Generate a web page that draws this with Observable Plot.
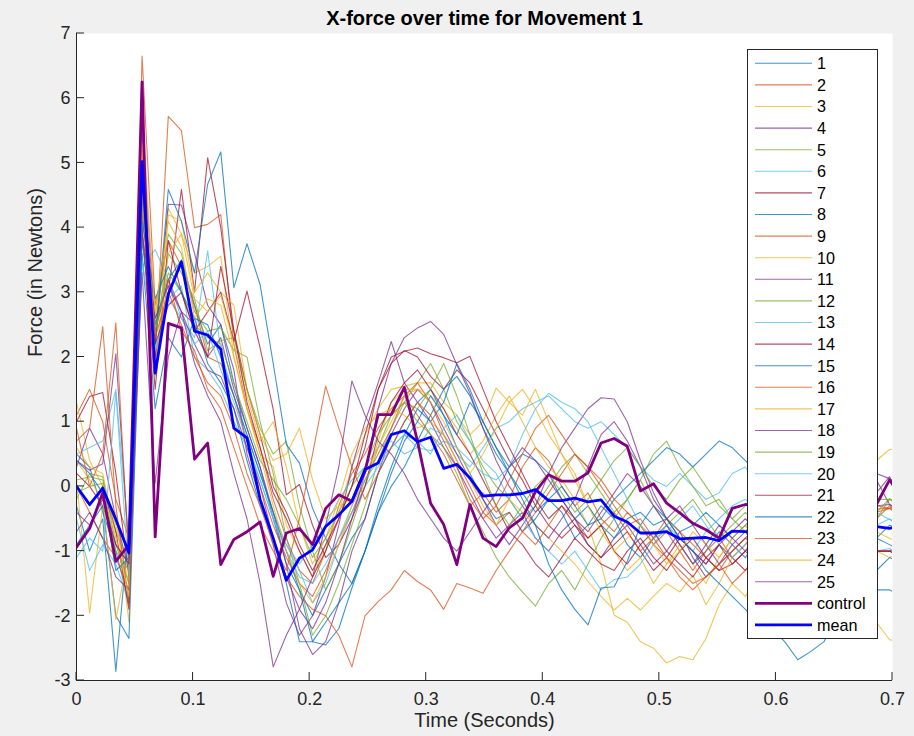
<!DOCTYPE html>
<html>
<head>
<meta charset="utf-8">
<script src="https://cdn.jsdelivr.net/npm/d3@7"></script>
<script src="https://cdn.jsdelivr.net/npm/@observablehq/plot@0.6"></script>
<style>
  html, body { margin: 0; padding: 0; background: #f0f0f0; }
  #chart { position: relative; width: 914px; height: 736px; font-family: "Liberation Sans", Arial, Helvetica, sans-serif; }
  #chart svg { display: block; }
  #legend { position: absolute; left: 747px; top: 49px; }
</style>
</head>
<body>
<div id="chart"></div>
<script>
// X-force samples (N) for each trial of movement 1, one value per sample
const trial01 = [0.5, 0.3, -0.4, -1.0, -1.8, 4.5, 2.5, 3.2, 3.5, 2.8, 2.2, 2.5, 1.6, 0.9, 0.3, -0.5, -1.2, -1.6, -2.0, -1.6, -1.2, -0.8, -0.5, 0.2, 0.6, 1.0, 1.3, 1.5, 1.1, 0.6, 0.2, -0.2, -0.5, -0.4, -0.7, -0.5, -0.2, -0.4, -0.8, -0.6, -0.3, -0.5, -0.9, -1.1, -0.8, -0.6, -0.9, -1.2, -1.0, -0.7, -0.9, -1.1, -0.8, -0.6, -0.9, -1.3, -1.0, -0.8, -0.5, -0.7, -1.0, -0.8, -0.6, -0.7];
const trial02 = [1.1, 1.5, 1.0, -0.2, -0.8, 5.2, 2.0, 5.72, 5.5, 4.0, 4.05, 4.2, 2.2, 1.2, 0.6, -0.2, -0.8, -1.3, -1.5, -1.0, -0.3, 0.2, 0.5, 0.9, 1.2, 1.4, 1.1, 0.8, 0.5, 0.1, -0.3, -0.1, -0.4, -0.2, 0.3, 0.6, 0.4, 0.0, -0.3, -0.1, -0.5, -0.7, -0.4, -0.6, -0.9, -0.7, -1.0, -1.3, -1.0, -0.8, -1.1, -0.9, -0.6, -0.8, -1.0, -0.7, -0.5, -0.8, -0.6, -0.4, -0.7, -0.5, -0.3, -0.5];
const trial03 = [1.3, 0.4, 0.0, -0.6, -1.5, 5.8, 2.6, 4.3, 3.9, 3.3, 3.4, 3.56, 2.0, 1.2, 0.5, 0.3, -0.6, -1.0, -1.4, -0.9, -0.4, 0.3, 0.8, 1.2, 1.5, 1.55, 1.6, 1.6, 1.3, 1.1, 0.8, 1.0, 1.52, 1.3, 1.1, 1.5, 1.0, 0.5, 0.2, -0.3, -0.6, -1.0, -1.3, -1.1, -1.5, -1.2, -0.9, -1.2, -1.5, -1.1, -0.8, -0.6, -0.9, -1.1, -0.8, -0.6, -0.8, -1.0, -1.2, -1.5, -1.8, -2.1, -2.37, -2.4];
const trial04 = [0.3, 0.9, 0.5, -0.5, -1.3, 4.8, 2.2, 4.36, 4.35, 3.6, 2.8, 2.5, 1.8, 0.5, -0.2, -0.9, -1.8, -2.3, -2.0, -1.4, -0.6, 0.3, 1.0, 1.6, 2.24, 1.6, 1.3, 1.0, 0.6, 0.3, -0.1, -0.5, -0.8, -0.6, -0.4, -0.8, -1.0, -0.7, -0.5, -0.9, -1.1, -0.8, -0.6, -0.9, -1.2, -1.0, -0.7, -1.1, -1.4, -1.2, -0.9, -0.7, -1.0, -0.8, -0.5, -0.7, -0.4, -0.2, 0.0, -0.1, 0.1, 0.2, 0.12, 0.0];
const trial05 = [0.1, 0.15, 0.1, -0.7, -1.2, 4.2, 2.5, 3.9, 3.6, 2.7, 2.4, 2.45, 2.1, 2.0, 1.0, 0.2, -0.8, -1.5, -2.3, -2.0, -1.5, -0.9, -0.3, 0.4, 0.9, 1.3, 1.6, 1.9, 1.5, 1.0, 0.7, 0.3, 0.0, -0.2, -0.5, -0.3, 0.0, 0.3, 0.5, 0.2, -0.1, -0.4, -0.2, 0.1, -0.3, -0.6, -0.4, -0.2, -0.5, -0.8, -0.6, -0.4, -0.6, -0.3, -0.1, -0.4, -0.2, 0.0, -0.3, -0.1, -0.2, -0.4, -0.19, -0.3];
const trial06 = [0.5, 0.6, 0.7, 1.5, -0.9, 3.4, 3.66, 3.2, 2.6, 2.3, 3.64, 2.1, 1.4, 0.8, 0.2, -0.4, -0.9, -1.2, -0.9, -0.6, -0.2, 0.1, 0.3, 0.6, 0.7, 0.5, 0.6, 0.9, 0.8, 0.5, 0.3, 0.6, 0.9, 1.0, 1.2, 1.3, 1.4, 1.2, 1.0, 0.9, 1.0, 0.8, 0.6, 0.3, 0.1, 0.0, 0.2, 0.0, -0.2, -0.1, 0.2, 0.3, 0.0, -0.2, -0.3, -0.5, -0.4, -0.6, -0.5, -0.3, -0.5, -0.4, -0.51, -0.6];
const trial07 = [1.0, 1.39, 1.45, 0.2, -1.4, 4.5, 2.0, 3.0, 4.59, 3.0, 5.08, 4.0, 2.4, 1.5, 0.8, 0.0, -0.4, -0.9, -1.3, -0.9, -0.5, 0.0, 0.6, 1.5, 1.9, 2.1, 2.0, 1.7, 1.5, 1.8, 1.6, 1.2, 0.8, 0.4, 0.1, -0.3, -0.6, -0.8, -0.6, -0.9, -1.1, -0.9, -0.7, -1.0, -1.3, -1.1, -0.8, -1.0, -1.2, -0.9, -1.1, -1.3, -1.0, -0.8, -1.1, -0.9, -1.2, -1.0, -0.8, -1.1, -0.9, -1.0, -1.0, -0.9];
const trial08 = [-0.3, -1.0, -0.5, -2.86, -0.6, 3.6, 1.2, 2.3, 2.0, 2.6, 1.9, 1.6, 1.2, 0.4, -0.3, -0.8, -1.5, -2.4, -2.4, -2.45, -2.2, -1.57, -1.0, -0.3, 0.3, 0.8, 1.2, 1.0, 1.3, 1.9, 1.5, 1.0, 0.6, 0.3, 0.5, 0.4, 0.2, -0.2, -0.5, -0.3, -0.6, -0.8, -0.5, -0.4, -0.6, -0.5, -0.7, -0.6, -0.4, -0.6, -0.8, -0.6, -0.4, -0.7, -0.9, -0.6, -0.5, -0.7, -0.9, -0.8, -1.0, -0.8, -0.9, -1.0];
const trial09 = [0.0, -0.4, -0.8, -1.1, -1.6, 6.65, 2.8, 3.8, 3.4, 2.8, 2.0, 1.9, 1.4, 0.7, 0.0, -0.6, -1.1, -1.5, -1.7, -1.3, -0.8, -0.4, 0.1, 0.5, 0.9, 1.4, 1.6, 1.3, 0.8, 0.4, 0.0, -0.4, -0.6, -0.4, -0.7, -0.9, -0.6, -0.3, -0.5, -0.8, -0.6, -0.4, -0.7, -1.0, -0.8, -0.5, -0.7, -0.9, -1.1, -1.3, -1.0, -0.8, -1.0, -1.2, -0.9, -0.7, -0.6, -0.8, -0.5, -0.3, -0.5, -0.4, -0.34, -0.2];
const trial10 = [0.1, -1.96, -0.3, -0.4, -2.1, 4.0, 1.7, 4.2, 4.1, 3.0, 3.3, 3.0, 2.8, 1.5, 0.8, 0.4, 0.5, 0.9, 0.1, -0.5, -0.3, -0.2, 0.0, 0.7, 1.3, 1.5, 1.5, 1.4, 1.2, 0.9, 0.5, 0.7, 1.1, 1.4, 1.0, 0.6, 0.3, 0.1, -0.2, -0.6, -1.2, -1.99, -2.1, -2.4, -2.5, -2.73, -2.63, -2.68, -2.35, -1.83, -1.5, -1.7, -1.4, -1.2, -1.0, -0.8, -1.1, -0.9, -0.7, -1.0, -1.2, -1.0, -1.1, -1.0];
const trial11 = [0.4, 0.25, 0.35, 2.05, -1.0, 5.5, 2.4, 3.2, 2.7, 2.5, 2.0, 2.3, 1.5, 0.9, 0.3, -0.4, -1.2, -2.2, -2.6, -2.4, -1.8, -1.0, -0.5, 0.2, 0.8, 1.2, 1.5, 1.3, 0.9, 0.5, 0.1, -0.2, -0.6, -0.9, -0.6, -0.3, 0.2, 0.6, 0.9, 1.2, 1.37, 1.35, 1.0, 0.4, -0.1, -0.5, -0.3, -0.6, -0.9, -1.2, -1.0, -0.8, -0.6, -0.9, -0.7, -0.5, -0.3, -0.5, -0.2, 0.0, -0.2, -0.1, 0.15, -0.3];
const trial12 = [-0.2, 0.2, 0.15, -0.9, -1.5, 4.9, 2.3, 3.6, 3.3, 2.9, 2.1, 2.25, 2.3, 1.5, 0.9, 0.5, 0.7, -0.3, -1.0, -1.6, -1.2, -0.6, 0.0, 0.6, 1.1, 1.3, 1.0, 0.8, 0.6, 0.2, -0.3, -0.7, -1.1, -1.4, -1.63, -1.85, -1.5, -1.3, -1.6, -1.2, -0.8, -0.5, -0.2, 0.1, 0.5, 0.7, 0.3, 0.0, -0.3, -0.2, -0.5, -0.7, -0.4, -0.6, -0.8, -0.5, -0.7, -0.9, -0.6, -0.4, -0.6, -0.5, -0.2, -0.3];
const trial13 = [-0.5, -1.3, -0.9, -1.2, -1.8, 3.5, 2.1, 2.9, 3.1, 2.0, 1.8, 1.5, 1.0, 0.6, 0.1, -0.5, -0.9, -1.3, -1.8, -1.5, -0.9, -0.4, 0.0, 0.3, 0.6, 0.8, 0.7, 0.5, 0.9, 1.1, 0.7, 0.4, 0.2, -0.2, -0.5, -0.8, -1.0, -1.2, -1.0, -1.3, -1.6, -1.44, -1.4, -1.2, -0.9, -0.6, -0.8, -1.0, -0.7, -0.5, -0.3, -0.2, -0.4, -0.6, -0.5, -0.3, -0.6, -0.8, -1.0, -0.9, -0.96, -1.0, -0.96, -1.1];
const trial14 = [0.2, 0.0, -0.3, -0.9, -1.2, 4.0, 1.5, 3.8, 3.0, 2.4, 2.7, 3.0, 2.24, 3.02, 2.14, 1.19, -0.13, 0.03, -0.6, -1.1, -0.9, -0.5, 0.0, 0.8, 1.3, 1.6, 1.8, 1.5, 1.2, 0.8, 0.5, 0.1, -0.3, -0.7, -0.9, -1.2, -1.4, -1.1, -0.8, -1.0, -1.2, -1.3, -1.0, -0.8, -1.1, -1.3, -1.0, -0.8, -1.1, -1.3, -1.2, -1.0, -1.2, -1.4, -1.1, -0.9, -1.2, -1.0, -1.3, -1.1, -1.0, -1.0, -1.0, -1.1];
const trial15 = [-0.9, -0.6, -0.3, -2.0, -2.35, 3.8, 2.2, 4.59, 4.1, 3.3, 4.67, 5.17, 3.07, 3.75, 3.12, 1.9, 0.65, 0.36, -0.34, -0.8, -1.2, -1.5, -1.0, -0.4, 0.0, 0.3, 0.7, 1.1, 1.5, 1.7, 1.4, 0.9, 0.5, 0.2, -0.1, -0.4, -0.2, 0.0, -0.3, -0.6, -0.5, -0.2, 0.0, 0.2, 0.4, 0.6, 0.5, 0.3, 0.5, 0.7, 0.6, 0.4, 0.2, 0.0, -0.3, -0.6, -0.9, -1.2, -1.4, -1.5, -1.6, -1.6, -1.6, -1.7];
const trial16 = [0.7, 0.9, 2.47, -0.3, -1.8, 4.3, 1.9, 3.2, 2.4, 2.1, 1.5, 1.2, 0.6, 0.0, -0.6, -1.0, -1.4, -1.7, -1.9, -2.0, -2.3, -2.79, -2.0, -1.78, -1.6, -1.3, -1.47, -1.6, -1.9, -1.5, -1.57, -1.65, -1.3, -1.0, -0.7, -0.4, -0.1, 0.2, 0.5, 0.3, 0.1, -0.2, -0.4, -0.6, -0.9, -1.1, -1.3, -1.5, -1.4, -1.2, -1.0, -0.8, -0.9, -1.1, -0.8, -0.6, -0.7, -0.5, -0.6, -0.4, -0.5, -0.35, -0.34, -0.4];
const trial17 = [0.4, 0.1, -0.2, -2.06, -1.0, 4.6, 1.8, 3.6, 3.9, 2.9, 2.7, 2.95, 2.2, 1.4, 0.7, 1.0, 0.3, -0.6, -1.2, -0.8, -0.2, 0.5, 0.9, 1.1, 1.2, 1.1, 0.9, 1.0, 0.8, 0.4, 0.1, -0.3, -0.6, -0.2, -0.4, -0.6, -0.8, -1.0, -1.2, -1.47, -1.7, -1.91, -1.73, -1.91, -1.7, -1.5, -1.63, -1.37, -1.83, -1.5, -1.1, -0.9, -0.7, -0.5, -0.7, -0.9, -0.8, -0.6, -0.8, -1.0, -0.9, -0.7, -0.8, -0.9];
const trial18 = [-0.7, -0.4, -0.8, -1.4, -1.6, 3.9, 2.6, 3.1, 2.7, 2.2, 1.8, 1.7, 1.2, 0.6, 0.0, -0.8, -1.4, -1.9, -2.2, -1.8, -1.2, -0.5, 0.2, 1.2, 1.9, 2.3, 2.45, 2.55, 2.35, 1.88, 1.44, 0.9, 0.4, 0.0, -0.3, -0.6, -0.8, -0.5, -0.2, 0.3, 0.8, 1.0, 0.7, 0.3, -0.2, -0.5, -0.8, -1.0, -1.2, -0.9, -0.7, -0.5, -0.7, -0.4, -0.2, -0.4, -0.1, 0.1, -0.1, 0.0, 0.15, 0.1, -0.28, -0.4];
const trial19 = [-0.1, 0.0, 0.05, -1.0, -1.3, 4.4, 2.4, 3.3, 3.0, 2.5, 2.3, 2.2, 1.6, 1.0, 0.4, 0.1, -0.2, -0.6, -1.1, -0.8, -0.4, 0.0, 0.3, 0.8, 1.1, 1.3, 1.2, 1.5, 1.9, 1.4, 0.8, 0.2, -0.3, -0.6, -0.3, 0.0, 0.2, -0.1, -0.4, -0.2, 0.1, 0.4, 0.6, 0.3, 0.0, -0.2, 0.1, 0.3, 0.0, -0.3, -0.5, -0.3, 0.0, -0.2, -0.4, -0.6, -0.3, -0.5, -0.2, -0.1, -0.3, -0.2, -0.2, -0.3];
const trial20 = [-1.1, -0.8, -1.0, 1.45, -1.4, 4.9, 2.1, 2.9, 2.6, 2.2, 2.4, 1.8, 1.3, 0.7, 0.1, -0.5, -1.0, -1.4, -1.5, -1.2, -0.8, -0.3, 0.1, 0.4, 0.6, 0.8, 0.6, 0.55, 0.7, 0.6, 0.4, 0.2, 0.1, 0.3, 0.8, 1.2, 1.44, 1.3, 1.2, 1.0, 0.6, 0.2, -0.2, -0.6, -0.8, -0.7, -0.5, -0.3, -0.6, -0.9, -1.1, -0.9, -0.7, -0.5, -0.8, -1.0, -0.7, -0.5, -0.6, -0.8, -0.7, -0.6, -0.5, -0.7];
const trial21 = [0.0, -0.3, 0.0, -0.7, -1.9, 4.7, 2.2, 2.8, 3.0, 2.4, 2.0, 3.4, 2.4, 1.3, 0.6, -0.1, -0.5, -1.0, -1.4, -1.0, -0.5, 0.0, 0.8, 1.5, 2.0, 2.09, 2.14, 2.05, 1.99, 1.91, 2.01, 1.5, 1.0, 0.6, 0.2, -0.2, -0.5, -0.3, -0.6, -0.8, -0.6, -1.0, -1.2, -0.9, -0.7, -1.0, -1.2, -1.4, -1.1, -0.9, -1.2, -1.0, -0.8, -1.1, -1.3, -1.0, -0.8, -1.1, -0.9, -1.0, -1.2, -1.0, -1.0, -1.1];
const trial22 = [0.4, 0.2, -0.1, -1.3, -1.1, 4.1, 2.9, 3.4, 3.0, 2.6, 2.5, 2.0, 1.4, 0.8, 0.2, -0.4, -1.0, -1.6, -2.4, -2.1, -1.8, -1.5, -1.0, -0.4, 0.2, 0.7, 1.0, 1.4, 1.1, 0.8, 1.3, 1.0, 0.6, 0.2, -0.2, -0.6, -1.2, -1.6, -1.9, -2.14, -1.57, -1.55, -1.16, -0.6, -0.3, -0.5, -0.8, -1.0, -1.3, -1.5, -1.7, -1.9, -2.1, -2.2, -2.4, -2.68, -2.55, -2.4, -2.0, -1.7, -1.5, -1.3, -1.1, -1.2];
const trial23 = [0.9, 0.0, 0.5, 2.53, -1.2, 5.0, 2.3, 3.0, 2.5, 2.0, 1.6, 1.4, 0.9, 0.2, -0.3, -0.9, -1.3, -0.5, 0.5, 1.55, 0.9, 0.3, -0.2, 0.2, 0.6, 1.0, 1.3, 1.1, 0.7, 0.3, -0.2, -0.5, -0.3, 0.1, 0.5, 0.9, 1.1, 0.8, 0.5, 0.3, 0.0, -0.3, -0.6, -0.5, -0.8, -1.1, -1.4, -1.6, -1.4, -1.2, -1.5, -1.3, -1.1, -0.9, -0.7, -0.8, -0.6, -0.5, -0.4, -0.6, -0.5, -0.3, -0.34, -0.5];
const trial24 = [0.6, 0.3, 0.2, -0.8, -1.7, 5.3, 2.7, 4.1, 3.7, 2.6, 2.9, 2.8, 2.0, 1.2, 0.5, -0.3, -1.0, -1.5, -1.8, -1.4, -0.9, -0.3, 0.2, 0.6, 1.0, 1.4, 1.5, 1.3, 1.0, 0.6, 0.2, 0.5, 0.9, 1.3, 1.5, 1.2, 0.8, 0.5, 0.1, -0.3, -0.7, -1.0, -0.8, -0.6, -0.9, -1.2, -1.0, -0.7, -0.9, -1.1, -0.8, -0.6, -0.8, -0.5, -0.3, -0.5, -0.7, -0.4, -0.2, 0.0, 0.2, 0.4, 0.57, 0.6];
const trial25 = [-0.4, -0.6, -0.2, -0.9, -1.2, 3.3, 0.05, 2.0, 2.7, 1.9, 1.4, 1.0, 0.2, -0.5, -1.5, -2.79, -2.3, -1.9, -1.4, -0.6, 0.3, 1.63, 1.1, 0.7, 0.5, 0.2, -0.2, -0.5, -0.8, -1.0, -0.7, -0.4, -0.1, 0.3, 0.6, 0.4, 0.1, -0.2, -0.5, -0.7, -0.4, -0.1, 0.2, 0.0, -0.3, -0.6, -0.9, -1.2, -0.9, -0.6, -0.8, -1.0, -0.7, -0.5, -0.8, -0.6, -0.3, -0.5, -0.7, -0.4, -0.2, -0.3, -0.28, -0.4];

// Control movement and the across-trial mean
const control = [-0.94, -0.65, -0.1, -1.16, -0.9, 6.25, -0.78, 2.52, 2.45, 0.42, 0.67, -1.21, -0.82, -0.7, -0.55, -1.39, -0.72, -0.65, -0.9, -0.34, -0.13, -0.23, 0.23, 1.11, 1.11, 1.53, 0.7, -0.26, -0.59, -1.21, -0.28, -0.8, -0.93, -0.64, -0.49, -0.08, 0.18, 0.08, 0.08, 0.21, 0.67, 0.74, 0.62, -0.07, 0.04, -0.26, -0.41, -0.57, -0.67, -0.8, -0.34, -0.28, -0.3, -0.2, -0.4, -0.5, -0.3, -0.4, -0.5, -0.45, -0.3, -0.28, 0.1, -0.2];
const mean = [0.0, -0.28, -0.03, -0.51, -1.03, 5.02, 1.75, 2.97, 3.47, 2.4, 2.34, 2.12, 0.9, 0.75, -0.2, -0.8, -1.45, -1.11, -0.98, -0.62, -0.44, -0.23, 0.26, 0.36, 0.8, 0.86, 0.69, 0.76, 0.28, 0.34, 0.13, -0.15, -0.13, -0.13, -0.11, -0.05, -0.22, -0.22, -0.18, -0.24, -0.21, -0.46, -0.55, -0.72, -0.72, -0.7, -0.81, -0.8, -0.79, -0.84, -0.69, -0.7, -0.72, -0.7, -0.75, -0.7, -0.68, -0.7, -0.65, -0.62, -0.6, -0.62, -0.65, -0.6];

const sampleInterval = 0.01125; // seconds between samples

const xTicks = [0, 0.1, 0.2, 0.3, 0.4, 0.5, 0.6, 0.7];
const yTicks = [-3, -2, -1, 0, 1, 2, 3, 4, 5, 6, 7];

const titleText = "X-force over time for Movement 1";
const xLabelText = "Time (Seconds)";
const yLabelText = "Force (in Newtons)";

// MATLAB default line colour order, cycled over the trials
const lineColors = ["#0072BD", "#D95319", "#EDB120", "#7E2F8E", "#77AC30", "#4DBEEE", "#A2142F"];
const controlColor = "#800080";
const meanColor = "#0000FF";
const axisColor = "#262626";
const fontStack = '"Liberation Sans", Arial, Helvetica, sans-serif';
const tickLength = 8;

const trials = [trial01, trial02, trial03, trial04, trial05, trial06, trial07, trial08, trial09, trial10,
  trial11, trial12, trial13, trial14, trial15, trial16, trial17, trial18, trial19, trial20,
  trial21, trial22, trial23, trial24, trial25];
const trialLabels = trials.map((_, k) => String(k + 1));
const trialColors = trialLabels.map((_, k) => lineColors[k % lineColors.length]);

const toRows = (values, trial) => values.map((v, i) => ({trial, time: i * sampleInterval, value: v}));
const trialRows = trials.flatMap((values, k) => toRows(values, trialLabels[k]));

const plot = Plot.plot({
  width: 914,
  height: 736,
  marginLeft: 76,
  marginRight: 22,
  marginTop: 33,
  marginBottom: 56,
  style: {background: "transparent", fontFamily: fontStack, fontSize: "18px", color: axisColor, overflow: "visible"},
  x: {domain: [0, 0.7]},
  y: {domain: [-3, 7]},
  color: {domain: trialLabels, range: trialColors},
  marks: [
    Plot.frame({fill: "white", stroke: "none"}),
    Plot.line(trialRows, {x: "time", y: "value", z: "trial", stroke: "trial", strokeWidth: 1.1, strokeOpacity: 0.75, clip: true}),
    Plot.line(toRows(control, "control"), {x: "time", y: "value", stroke: controlColor, strokeWidth: 2.8, clip: true}),
    Plot.line(toRows(mean, "mean"), {x: "time", y: "value", stroke: meanColor, strokeWidth: 2.8, clip: true}),
    Plot.ruleX([0], {stroke: axisColor}),
    Plot.ruleY([-3], {stroke: axisColor}),
    Plot.axisX({ticks: xTicks, tickSize: 0, tickPadding: 12, tickFormat: d => String(d), label: null, fontSize: 18}),
    Plot.axisY({ticks: yTicks, tickSize: 0, tickPadding: 6, tickFormat: d => String(d), label: null, fontSize: 18}),
    Plot.text([titleText], {frameAnchor: "top", lineAnchor: "middle", dy: -15, fontWeight: "bold", fontSize: 20, fill: "black"}),
    Plot.text([xLabelText], {frameAnchor: "bottom", lineAnchor: "middle", dy: 40, fontSize: 20, fill: axisColor}),
    Plot.text([yLabelText], {frameAnchor: "left", lineAnchor: "middle", dx: -41, rotate: -90, fontSize: 20, fill: axisColor})
  ]
});

const chart = document.getElementById("chart");
chart.append(plot);

// Inward-pointing tick marks, placed with the plot's own x and y scales
const xScale = plot.scale("x");
const yScale = plot.scale("y");
const svg = d3.select(plot);
const x0 = xScale.apply(0);
const yBase = yScale.apply(-3);
const ticksGroup = svg.append("g").attr("stroke", axisColor).attr("stroke-width", 1);
ticksGroup.selectAll("line.xtick").data(xTicks).join("line")
  .attr("class", "xtick")
  .attr("x1", d => xScale.apply(d)).attr("x2", d => xScale.apply(d))
  .attr("y1", yBase).attr("y2", yBase - tickLength);
ticksGroup.selectAll("line.ytick").data(yTicks).join("line")
  .attr("class", "ytick")
  .attr("x1", x0).attr("x2", x0 + tickLength)
  .attr("y1", d => yScale.apply(d)).attr("y2", d => yScale.apply(d));

// Legend box with one line sample per series
const legendEntries = [
  ...trialLabels.map((label, k) => ({label, color: trialColors[k], width: 1.1, opacity: 0.75})),
  {label: "control", color: controlColor, width: 2.8, opacity: 1},
  {label: "mean", color: meanColor, width: 2.8, opacity: 1}
];
const legendWidth = 131, legendHeight = 590, rowStep = 21.6, firstRow = 14.3;
const legend = d3.create("svg")
  .attr("id", "legend")
  .attr("width", legendWidth)
  .attr("height", legendHeight)
  .style("font-family", fontStack);
legend.append("rect")
  .attr("x", 0.5).attr("y", 0.5)
  .attr("width", legendWidth - 1).attr("height", legendHeight - 1)
  .attr("fill", "white").attr("stroke", axisColor).attr("stroke-width", 1);
const row = legend.selectAll("g.entry").data(legendEntries).join("g")
  .attr("class", "entry")
  .attr("transform", (d, i) => `translate(0,${firstRow + i * rowStep})`);
row.append("line")
  .attr("x1", 8).attr("x2", 65)
  .attr("stroke", d => d.color)
  .attr("stroke-width", d => d.width)
  .attr("stroke-opacity", d => d.opacity);
row.append("text")
  .attr("x", 70)
  .attr("dy", "0.36em")
  .attr("font-size", 16.2)
  .attr("fill", "black")
  .text(d => d.label);
chart.append(legend.node());
</script>
</body>
</html>
